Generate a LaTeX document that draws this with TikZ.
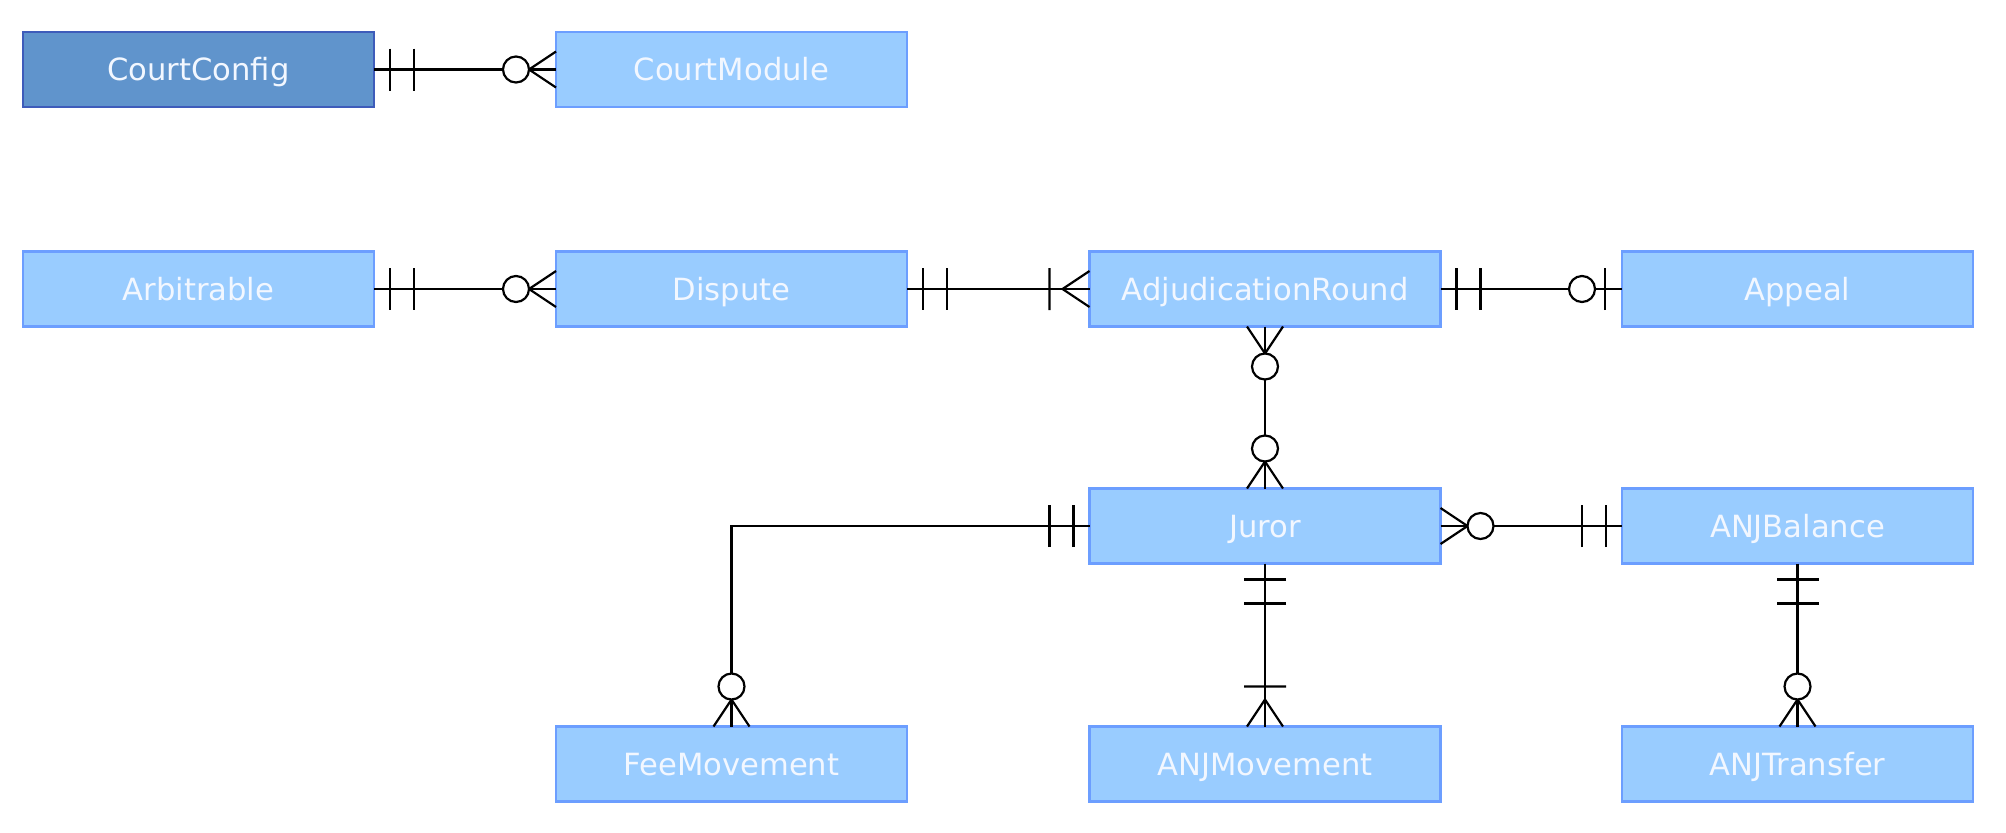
\documentclass[tikz,border=0pt]{standalone}
\usepackage{fontspec}
\setmainfont{DejaVu Sans}
\definecolor{lightfill}{HTML}{99CCFF}
\definecolor{lightdraw}{HTML}{6C9EFF}
\definecolor{darkfill}{HTML}{6094CC}
\definecolor{darkdraw}{HTML}{3E5CBA}
\definecolor{txtcol}{HTML}{F2F7FF}
\tikzset{
  entity/.style={rectangle, draw=lightdraw, fill=lightfill, line width=1.2pt,
    minimum width=175.5pt, minimum height=37.5pt, inner sep=0pt, outer sep=0pt,
    text height=11.2pt, text depth=0pt,
    text=txtcol, font=\fontsize{15.3pt}{18pt}\selectfont},
  darkentity/.style={entity, draw=darkdraw, fill=darkfill},
  erline/.style={draw=black, line width=1.1pt},
}
\newcommand\erMandOne[2]{\begin{scope}[shift={(#1)},rotate=#2]\draw[erline] (16,-21)--(16,21) (40,-21)--(40,21);\end{scope}}
\newcommand\erOneMany[2]{\begin{scope}[shift={(#1)},rotate=#2]\draw[erline] (40,-21)--(40,21) (0,-18)--(27,0)--(0,18);\end{scope}}
\newcommand\erZeroMany[2]{\begin{scope}[shift={(#1)},rotate=#2]\draw[erline] (0,-18)--(27,0)--(0,18); \draw[erline, fill=white] (40,0) circle[radius=6.5pt];\end{scope}}
\newcommand\erZeroOne[2]{\begin{scope}[shift={(#1)},rotate=#2]\draw[erline] (17,-21)--(17,21); \draw[erline, fill=white] (40,0) circle[radius=6.5pt];\end{scope}}
\begin{document}
\begin{tikzpicture}[x=0.5pt, y=-0.5pt]
\useasboundingbox (0,0) rectangle (2006,832);
% entities
\node[darkentity] (config) at (198.5,69.5) {CourtConfig};
\node[entity] (module) at (731.5,69.5) {CourtModule};
\node[entity] (arb) at (198.5,289) {Arbitrable};
\node[entity] (dispute) at (731.5,289) {Dispute};
\node[entity] (round) at (1265,289) {AdjudicationRound};
\node[entity] (appeal) at (1797.5,289) {Appeal};
\node[entity] (juror) at (1265,526) {Juror};
\node[entity] (balance) at (1797.5,526) {ANJBalance};
\node[entity] (fee) at (731.5,764) {FeeMovement};
\node[entity] (movement) at (1265,764) {ANJMovement};
\node[entity] (transfer) at (1797.5,764) {ANJTransfer};
% connectors
\draw[erline] (config.east) -- (module.west);
\draw[erline] (arb.east) -- (dispute.west);
\draw[erline] (dispute.east) -- (round.west);
\draw[erline] (round.east) -- (appeal.west);
\draw[erline] (round.south) -- (juror.north);
\draw[erline] (juror.east) -- (balance.west);
\draw[erline] (juror.west) -| (fee.north);
\draw[erline] (juror.south) -- (movement.north);
\draw[erline] (balance.south) -- (transfer.north);
% cardinality marks
\erMandOne{config.east}{0}
\erZeroMany{module.west}{180}
\erMandOne{arb.east}{0}
\erZeroMany{dispute.west}{180}
\erMandOne{dispute.east}{0}
\erOneMany{round.west}{180}
\erMandOne{round.east}{0}
\erZeroOne{appeal.west}{180}
\erZeroMany{round.south}{270}
\erZeroMany{juror.north}{90}
\erZeroMany{juror.east}{0}
\erMandOne{balance.west}{180}
\erMandOne{juror.west}{180}
\erZeroMany{fee.north}{90}
\erMandOne{juror.south}{270}
\erOneMany{movement.north}{90}
\erMandOne{balance.south}{270}
\erZeroMany{transfer.north}{90}
\end{tikzpicture}
\end{document}
